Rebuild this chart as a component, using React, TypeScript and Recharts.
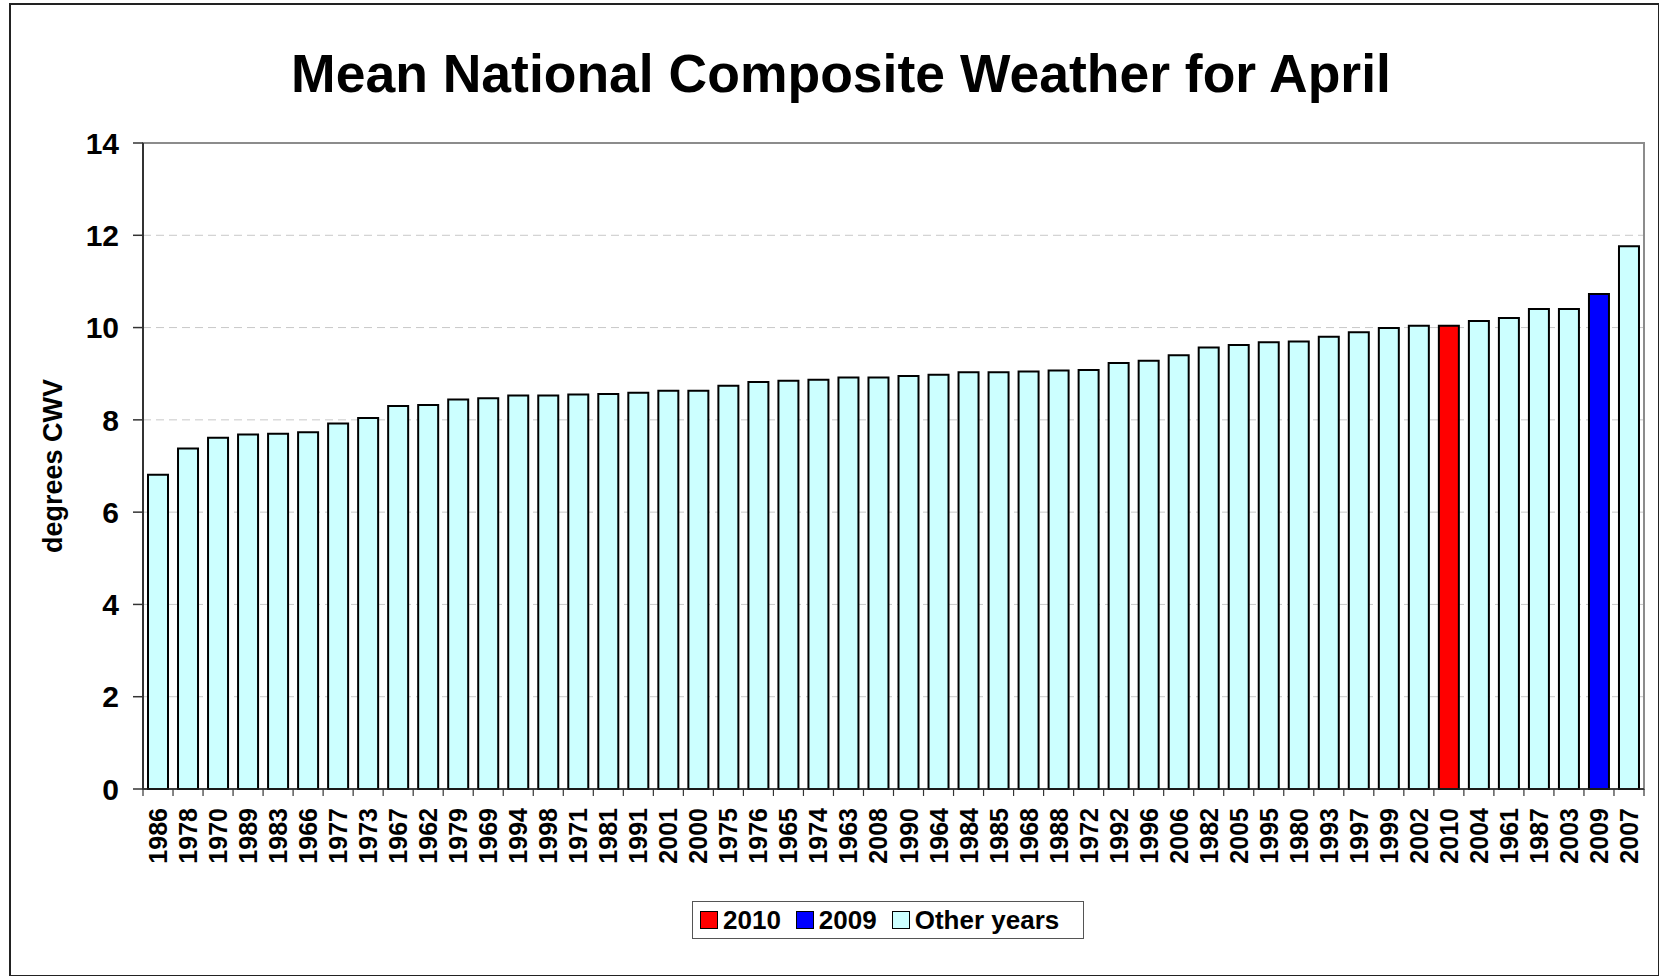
import { BarChart, Bar, Cell, XAxis, YAxis, CartesianGrid, ReferenceArea, Label } from 'recharts'

// Years sorted by April composite weather value (low to high)
const years = [
  '1986', '1978', '1970', '1989', '1983', '1966', '1977', '1973', '1967', '1962',
  '1979', '1969', '1994', '1998', '1971', '1981', '1991', '2001', '2000', '1975',
  '1976', '1965', '1974', '1963', '2008', '1990', '1964', '1984', '1985', '1968',
  '1988', '1972', '1992', '1996', '2006', '1982', '2005', '1995', '1980', '1993',
  '1997', '1999', '2002', '2010', '2004', '1961', '1987', '2003', '2009', '2007',
]

const cwv = [
  6.81, 7.38, 7.61, 7.68, 7.70, 7.73, 7.92, 8.04, 8.30, 8.32,
  8.44, 8.47, 8.53, 8.53, 8.55, 8.56, 8.59, 8.63, 8.63, 8.74,
  8.82, 8.85, 8.87, 8.92, 8.92, 8.95, 8.98, 9.03, 9.03, 9.05,
  9.07, 9.08, 9.23, 9.28, 9.40, 9.57, 9.62, 9.68, 9.70, 9.80,
  9.90, 9.99, 10.04, 10.04, 10.14, 10.21, 10.40, 10.40, 10.73, 11.76,
]

const yTicks = [0, 2, 4, 6, 8, 10, 12, 14]

const legendLabels = ['2010', '2009', 'Other years']
const legendColors = ['#ff0000', '#0000ff', '#ccffff']

const FONT = "'Liberation Sans', Arial, Helvetica, sans-serif"

const colorFor = (year: string) => {
  const i = legendLabels.indexOf(year)
  return i >= 0 ? legendColors[i] : legendColors[2]
}

const data = years.map((year, i) => ({ year, value: cwv[i] }))

function YearTick(props: any) {
  const { x, y, payload } = props
  const half = payload?.offset ?? 15
  const last = payload?.index === years.length - 1
  return (
    <g>
      <line x1={x - half} x2={x - half} y1={y} y2={y + 7} stroke="#333" strokeWidth={1.2} />
      {last && <line x1={x + half} x2={x + half} y1={y} y2={y + 7} stroke="#333" strokeWidth={1.2} />}
      <text
        x={x}
        y={y + 19}
        transform={`rotate(-90, ${x}, ${y + 19})`}
        textAnchor="end"
        dy="0.36em"
        fontFamily={FONT}
        fontWeight="bold"
        fontSize={25}
        fill="#000"
      >
        {payload.value}
      </text>
    </g>
  )
}

export default function App() {
  return (
    <div style={{ position: 'absolute', left: 0, top: 0, width: 1659, height: 976, background: '#fff', fontFamily: FONT }}>
      {/* outer frame */}
      <div style={{ position: 'absolute', left: 9, top: 3, width: 1647, height: 970, border: '2px solid #222' }} />

      <div
        style={{
          position: 'absolute', left: 0, width: 1682, top: 47, textAlign: 'center',
          fontSize: 53.5, fontWeight: 'bold', lineHeight: 1, color: '#000',
        }}
      >
        Mean National Composite Weather for April
      </div>

      <div style={{ position: 'absolute', left: 0, top: 0 }}>
        <BarChart
          width={1659}
          height={976}
          data={data}
          margin={{ top: 143, right: 15, bottom: 97, left: 43 }}
        >
          <CartesianGrid vertical={false} stroke="#c8c8c8" strokeDasharray="8 5" />
          <ReferenceArea y1={0} y2={14} fill="none" stroke="#8c8c8c" strokeWidth={2} />
          <XAxis
            dataKey="year"
            interval={0}
            height={90}
            tickSize={0}
            tickMargin={0}
            tickLine={false}
            axisLine={{ stroke: '#222', strokeWidth: 1.5 }}
            tick={<YearTick />}
          />
          <YAxis
            domain={[0, 14]}
            ticks={yTicks}
            width={100}
            tickSize={10}
            tickMargin={14}
            axisLine={{ stroke: '#333', strokeWidth: 2 }}
            tickLine={{ stroke: '#333', strokeWidth: 1.5 }}
            tick={{ fill: '#000', fontSize: 30, fontWeight: 'bold', fontFamily: FONT }}
          >
            <Label
              content={({ viewBox }: any) => {
                const cx = viewBox.x + 9
                const cy = viewBox.y + viewBox.height / 2
                return (
                  <text
                    x={cx}
                    y={cy}
                    transform={`rotate(-90, ${cx}, ${cy})`}
                    textAnchor="middle"
                    dy="0.36em"
                    fontFamily={FONT}
                    fontWeight="bold"
                    fontSize={27}
                    fill="#000"
                  >
                    degrees CWV
                  </text>
                )
              }}
            />
          </YAxis>
          <Bar dataKey="value" barSize={20} stroke="#000" strokeWidth={2} isAnimationActive={false}>
            {data.map((d) => (
              <Cell key={d.year} fill={colorFor(d.year)} />
            ))}
          </Bar>
        </BarChart>
      </div>

      {/* legend */}
      <div
        style={{
          position: 'absolute', left: 692, top: 901, width: 383, height: 36,
          border: '1px solid #555', display: 'flex', alignItems: 'center', paddingLeft: 7,
          fontSize: 26, fontWeight: 'bold', color: '#000', boxSizing: 'content-box',
        }}
      >
        {legendLabels.map((label, i) => (
          <div key={label} style={{ display: 'flex', alignItems: 'center', marginRight: 15 }}>
            <span
              style={{
                width: 16, height: 16, background: legendColors[i], border: '1px solid #000',
                display: 'inline-block', marginRight: 5,
              }}
            />
            <span>{label}</span>
          </div>
        ))}
      </div>
    </div>
  )
}
